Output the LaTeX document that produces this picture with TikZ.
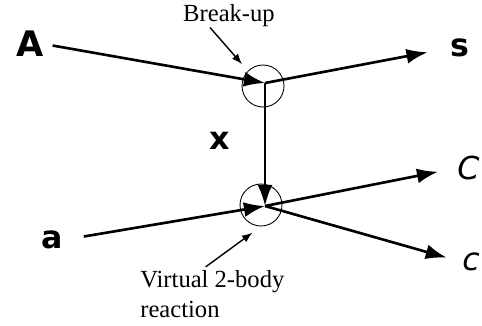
\documentclass[tikz,border=0pt]{standalone}
\usepackage{fontspec}
\setmainfont{Liberation Serif}
\newfontfamily\handfont{DejaVu Sans}
\usetikzlibrary{arrows.meta}

\begin{document}
\begin{tikzpicture}[x=0.02cm, y=-0.02cm,
    part/.style={font=\handfont\bfseries\fontsize{18}{20}\selectfont, inner sep=0pt},
    slant/.style={font=\handfont\itshape\fontsize{18}{20}\selectfont, inner sep=0pt},
    beam/.style={line width=1.5pt, -{Latex[length=12pt,width=8.5pt]}},
    ring/.style={circle, draw, line width=0.5pt, minimum size=0.84cm, inner sep=0pt},
    note/.style={font=\fontsize{14}{17}\selectfont, inner sep=0pt},
    pointer/.style={line width=0.8pt, -{Latex[length=6pt,width=4.5pt]}}]
    \useasboundingbox (0,0) rectangle (482,325);
    % The two vertices, with a circle round each one.
        \coordinate (top) at (265,83);
        \coordinate (bot) at (265,206);
        \node[ring] (brk) at (263,86) {};
        \node[ring] (vrt) at (261,205) {};
    % Below nodes are the particle labels.
        \node[part, font=\handfont\bfseries\fontsize{20}{22}\selectfont] (A) at (30,44) {A};
        \node[part] (a) at (52,240) {a};
        \node[part, anchor=west] (s) at (450,48) {s};
        \node[slant, anchor=west] (C) at (457,168) {C};
        \node[slant, anchor=west] (c) at (462,262) {c};
        \node[part] (x) at (220,141) {x};
    % This draws the break-up at the top vertex.
        \draw[beam, shorten <=5pt] (A.east) -- (top);
        \draw[beam, shorten >=13pt] (top) -- (s.west);
        \draw[beam] (top) -- (bot);
    % This draws the 2-body reaction at the bottom vertex.
        \draw[beam, shorten <=12pt] (a.east) -- (bot);
        \draw[beam, shorten >=11pt] (bot) -- (C.west);
        \draw[beam, shorten >=9pt] (bot) -- (c.west);
    % The notes and their little arrows.
        \node[note] (brkLbl) at (229,16) {Break-up};
        \node[note, align=left, anchor=north west] (vrtLbl) at (140,270) {Virtual 2-body\\reaction};
        \draw[pointer, shorten >=5pt] ([xshift=-0.38cm]brkLbl.south) -- (brk.north west);
        \draw[pointer, shorten <=3pt, shorten >=6pt] ([xshift=-0.22cm]vrtLbl.north) -- (vrt.south);
\end{tikzpicture}
\end{document}
